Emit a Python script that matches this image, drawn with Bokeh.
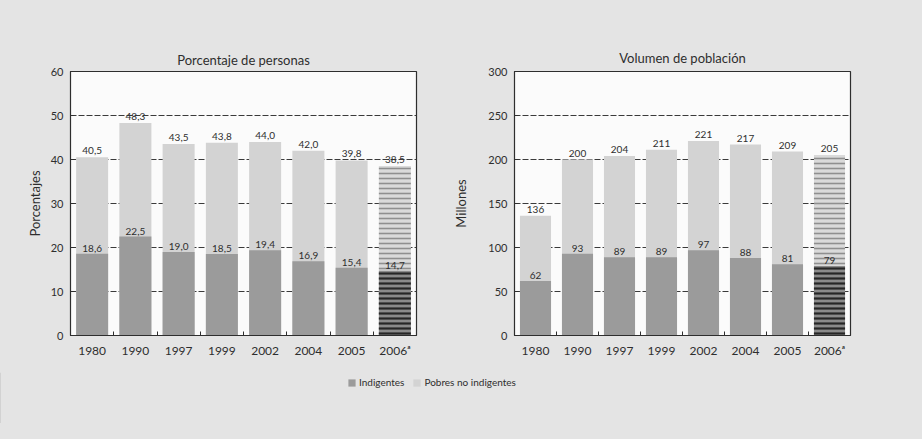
from bokeh.plotting import figure
from bokeh.layouts import column, row
from bokeh.models import (ColumnDataSource, Range1d, FixedTicker, Legend, LegendItem)
from bokeh.core.properties import value
from bokeh.embed import file_html
from bokeh.resources import INLINE

# ---- data ----
years = ["1980", "1990", "1997", "1999", "2002", "2004", "2005", "2006ᵃ"]
pobres_pct = [40.5, 48.3, 43.5, 43.8, 44.0, 42.0, 39.8, 38.5]
indigentes_pct = [18.6, 22.5, 19.0, 18.5, 19.4, 16.9, 15.4, 14.7]
pobres_mill = [136, 200, 204, 211, 221, 217, 209, 205]
indigentes_mill = [62, 93, 89, 89, 97, 88, 81, 79]
title_left = "Porcentaje de personas"
title_right = "Volumen de población"
ylabel_left = "Porcentajes"
ylabel_right = "Millones"
yticks_left = [0, 10, 20, 30, 40, 50, 60]
yticks_right = [0, 50, 100, 150, 200, 250, 300]
legend_labels = ["Indigentes", "Pobres no indigentes"]

FONT = "Lato"
LIGHT = "#d3d3d3"
DARK = "#9b9b9b"
BG = "#e4e4e4"
FRAME = "#fbfbfb"
INK = "#2e2e2e"
BGSTYLE = {"background-color": BG}


def fmt(v, decimals):
    if decimals:
        return f"{v:.1f}".replace(".", ",")
    return f"{v:d}"


def panel(title, ylabel, totals, indig, yticks, decimals, width, height,
          mb_left, mb_right, mb_top, mb_bottom, ylabel_standoff, title_standoff):
    n = len(years)
    xs = list(range(n))
    p = figure(width=width, height=height, output_backend="svg", toolbar_location=None,
               x_range=Range1d(-0.5, n - 0.5), y_range=Range1d(yticks[0], yticks[-1]),
               min_border_left=mb_left, min_border_right=mb_right,
               min_border_top=mb_top, min_border_bottom=mb_bottom,
               background_fill_color=FRAME, border_fill_color=BG,
               outline_line_color=INK, outline_line_width=1.2, styles=BGSTYLE)
    p.title.text = title
    p.title.align = "center"
    p.title.text_font = FONT
    p.title.text_font_size = "13px"
    p.title.text_font_style = "normal"
    p.title.text_color = INK
    p.title.standoff = title_standoff

    main = [i for i in xs if i < n - 1]
    last = [n - 1]
    src_main = ColumnDataSource(dict(x=main, tot=[totals[i] for i in main],
                                     ind=[indig[i] for i in main]))
    src_last = ColumnDataSource(dict(x=last, tot=[totals[i] for i in last],
                                     ind=[indig[i] for i in last]))
    w = 0.74
    p.vbar(x="x", top="tot", bottom=0, width=w, source=src_main,
           fill_color=LIGHT, line_color=None)
    p.vbar(x="x", top="ind", bottom=0, width=w, source=src_main,
           fill_color=DARK, line_color=None)
    p.vbar(x="x", top="tot", bottom=0, width=w, source=src_last,
           fill_color="#dadada", line_color=None,
           hatch_pattern="horizontal_line", hatch_color="#8f8f8f",
           hatch_scale=5, hatch_weight=1.6)
    p.vbar(x="x", top="ind", bottom=0, width=w, source=src_last,
           fill_color="#8a8a8a", line_color=None,
           hatch_pattern="horizontal_line", hatch_color="#262626",
           hatch_scale=5, hatch_weight=2.2)

    lab = ColumnDataSource(dict(x=xs, tot=totals, ind=indig,
                                tl=[fmt(v, decimals) for v in totals],
                                il=[fmt(v, decimals) for v in indig]))
    p.text(x="x", y="tot", text="tl", source=lab, text_align="center",
           text_baseline="bottom", y_offset=-3, text_font=value(FONT),
           text_font_size="10px", text_color=INK)
    p.text(x="x", y="ind", text="il", source=lab, text_align="center",
           text_baseline="bottom", y_offset=-2, text_font=value(FONT),
           text_font_size="10px", text_color=INK)

    # grid
    p.xgrid.visible = False
    p.ygrid.ticker = FixedTicker(ticks=yticks[1:-1])
    p.ygrid.grid_line_color = "#3a3a3a"
    p.ygrid.grid_line_dash = "6 2"
    p.ygrid.grid_line_width = 1

    # y axis
    ya = p.yaxis[0]
    ya.ticker = FixedTicker(ticks=yticks)
    ya.axis_label = ylabel
    ya.axis_label_text_font = FONT
    ya.axis_label_text_font_size = "13px"
    ya.axis_label_text_font_style = "normal"
    ya.axis_label_text_color = INK
    ya.axis_label_standoff = ylabel_standoff
    ya.major_label_text_font = FONT
    ya.major_label_text_font_size = "11px"
    ya.major_label_text_color = INK
    ya.major_label_standoff = 7
    ya.major_tick_in = 4
    ya.major_tick_out = 0
    ya.minor_tick_line_color = None
    ya.axis_line_color = INK
    ya.major_tick_line_color = INK

    # x axis
    xa = p.xaxis[0]
    xa.ticker = FixedTicker(ticks=xs, minor_ticks=[i + 0.5 for i in xs[:-1]])
    xa.major_label_overrides = {i: years[i] for i in xs}
    xa.major_label_text_font = FONT
    xa.major_label_text_font_size = "12px"
    xa.major_label_text_color = INK
    xa.major_label_standoff = 7
    xa.major_tick_in = 0
    xa.major_tick_out = 0
    xa.minor_tick_in = 4
    xa.minor_tick_out = 0
    xa.minor_tick_line_color = INK
    xa.axis_line_color = INK
    return p


p1 = panel(title_left, ylabel_left, pobres_pct, indigentes_pct, yticks_left, True,
           450, 372, 70, 34, 67, 37, 5, 8)
p2 = panel(title_right, ylabel_right, pobres_mill, indigentes_mill, yticks_right, False,
           456, 372, 52, 56, 71, 35, 16, 12)

# legend figure
p3 = figure(width=906, height=51, output_backend="svg", toolbar_location=None,
            x_range=Range1d(0, 1), y_range=Range1d(0, 1),
            min_border=0, border_fill_color=BG, background_fill_color=BG,
            outline_line_color=None, styles=BGSTYLE)
p3.axis.visible = False
p3.grid.visible = False
# renderers placed outside the visible range, used only for their legend swatches
r_ind = p3.vbar(x=[-5], top=[1], width=0.1, fill_color=DARK, line_color=None)
r_pob = p3.vbar(x=[-5], top=[1], width=0.1, fill_color=LIGHT, line_color=None)
leg = Legend(items=[LegendItem(label=legend_labels[0], renderers=[r_ind]),
                    LegendItem(label=legend_labels[1], renderers=[r_pob])],
             orientation="horizontal", location=(347, 35),
             background_fill_alpha=0, border_line_color=None,
             label_text_font=FONT, label_text_font_size="10px", label_text_color=INK,
             glyph_width=9, glyph_height=9, label_standoff=3, spacing=8,
             padding=0, margin=0)
p3.add_layout(leg, "center")

layout = column(row(p1, p2, spacing=0, styles=BGSTYLE), p3, spacing=0, styles=BGSTYLE)
html = file_html(layout, INLINE)
html = html.replace("<head>", "<head><style>html, body { background-color: #e4e4e4; }</style>", 1)
open("out.html", "w").write(html)
